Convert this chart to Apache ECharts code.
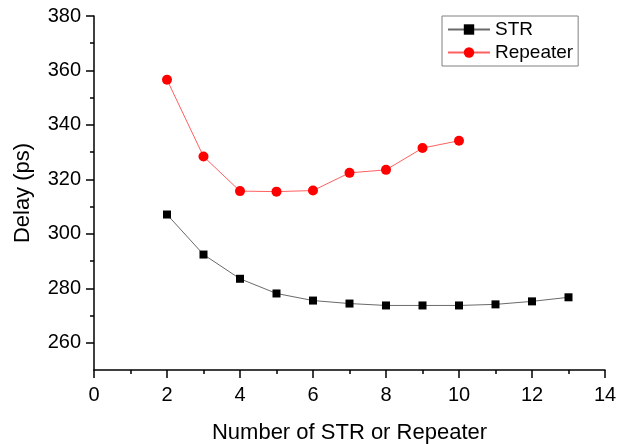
<!DOCTYPE html>
<html>
<head>
<meta charset="utf-8">
<script src="https://cdn.jsdelivr.net/npm/echarts@6/dist/echarts.min.js"></script>
<style>
  html, body { margin: 0; padding: 0; background: #fff; }
  #chart { width: 629px; height: 444px; }
</style>
</head>
<body>
<div id="chart"></div>
<script>
// Delay versus number of inserted STR / repeater stages
const stageCount = [2, 3, 4, 5, 6, 7, 8, 9, 10, 11, 12, 13];
const strDelay = [307.1, 292.4, 283.5, 278.1, 275.5, 274.4, 273.7, 273.7, 273.7, 274.1, 275.2, 276.7];
const repeaterCount = [2, 3, 4, 5, 6, 7, 8, 9, 10];
const repeaterDelay = [356.6, 328.4, 315.7, 315.5, 315.9, 322.4, 323.5, 331.5, 334.2];
const yMajorTicks = [260, 280, 300, 320, 340, 360, 380];
const yMinorTicks = [270, 290, 310, 330, 350, 370];

const font = 'Liberation Sans, Arial, sans-serif';
const chart = echarts.init(document.getElementById('chart'));

chart.setOption({
  animation: false,
  backgroundColor: '#fff',
  grid: { left: 94, right: 24, top: 16, bottom: 74, containLabel: false, outerBoundsMode: 'none' },
  legend: {
    orient: 'vertical',
    left: 442,
    top: 16,
    borderColor: '#808080',
    borderWidth: 1,
    padding: [4, 5, 4, 5],
    itemGap: 4,
    itemWidth: 42,
    itemHeight: 13,
    textStyle: { fontFamily: font, fontSize: 19, color: '#000' },
    data: ['STR', 'Repeater']
  },
  xAxis: {
    type: 'value',
    min: 0, max: 14, interval: 2,
    name: 'Number of STR or Repeater',
    nameLocation: 'middle',
    nameGap: 52,
    nameTextStyle: { fontFamily: font, fontSize: 22, color: '#000' },
    axisLine: { onZero: false, lineStyle: { color: '#000', width: 1.5 } },
    axisTick: { length: 8, lineStyle: { color: '#000', width: 1.5 } },
    minorTick: { show: true, splitNumber: 2, length: 4, lineStyle: { color: '#000', width: 1.5 } },
    axisLabel: { fontFamily: font, fontSize: 20, color: '#000', margin: 15 },
    splitLine: { show: false }
  },
  yAxis: [{
    type: 'value',
    min: 250, max: 380, interval: 10,
    name: 'Delay (ps)',
    nameLocation: 'middle',
    nameGap: 60,
    nameTextStyle: { fontFamily: font, fontSize: 22, color: '#000' },
    axisLine: { onZero: false, lineStyle: { color: '#000', width: 1.5 } },
    axisTick: { length: 8, customValues: yMajorTicks, lineStyle: { color: '#000', width: 1.5 } },
    axisLabel: { fontFamily: font, fontSize: 20, color: '#000', margin: 13, customValues: yMajorTicks },
    splitLine: { show: false }
  }, {
    // overlay axis carrying the short intermediate ticks
    type: 'value',
    position: 'left',
    min: 250, max: 380, interval: 10,
    axisLine: { show: false },
    axisTick: { length: 4, customValues: yMinorTicks, lineStyle: { color: '#000', width: 1.5 } },
    axisLabel: { show: false },
    splitLine: { show: false }
  }],
  series: [{
    name: 'STR',
    type: 'line',
    data: stageCount.map((x, i) => [x, strDelay[i]]),
    symbol: 'rect',
    symbolSize: 8,
    itemStyle: { color: '#000' },
    lineStyle: { color: '#6a6a6a', width: 1 },
    z: 3
  }, {
    name: 'Repeater',
    type: 'line',
    data: repeaterCount.map((x, i) => [x, repeaterDelay[i]]),
    symbol: 'circle',
    symbolSize: 10,
    itemStyle: { color: '#ff0000' },
    lineStyle: { color: '#ff6060', width: 1 },
    z: 3
  }]
});
</script>
</body>
</html>
